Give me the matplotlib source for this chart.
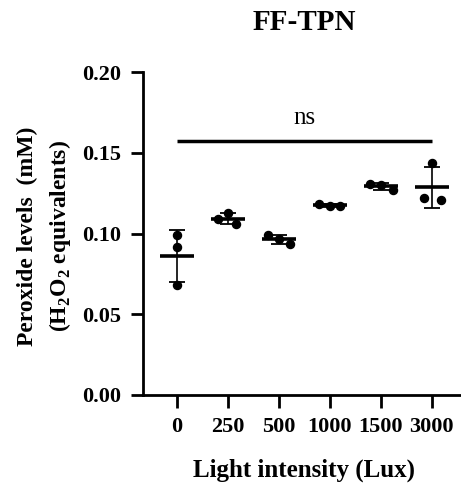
import numpy as np
import matplotlib
matplotlib.use("Agg")
import matplotlib.pyplot as plt

plt.rcParams['font.family'] = ['Liberation Serif', 'DejaVu Serif']
plt.rcParams['mathtext.fontset'] = 'custom'
plt.rcParams['mathtext.rm'] = 'Liberation Serif:bold'
plt.rcParams['mathtext.bf'] = 'Liberation Serif:bold'

categories = ["0", "250", "500", "1000", "1500", "3000"]
rep_0 = [0.0991, 0.0915, 0.0681]
rep_250 = [0.1127, 0.1090, 0.1057]
rep_500 = [0.0991, 0.0966, 0.0933]
rep_1000 = [0.1183, 0.1170, 0.1170]
rep_1500 = [0.1308, 0.1302, 0.1269]
rep_3000 = [0.1434, 0.1218, 0.1207]
replicates = [rep_0, rep_250, rep_500, rep_1000, rep_1500, rep_3000]
ns_level = 0.157
yticks = [0.00, 0.05, 0.10, 0.15, 0.20]

# horizontal jitter of replicate dots (in category units)
jitter = [[0, 0, 0], [0, -0.19, 0.16], [-0.21, 0, 0.23],
          [-0.21, 0, 0.21], [-0.22, 0, 0.23], [0, -0.16, 0.18]]

W, H = 461, 497
fig = plt.figure(figsize=(W / 100, H / 100), dpi=100)
x0, x1, y0, y1 = 143, 466, 72, 395
ax = fig.add_axes([x0 / W, 1 - y1 / H, (x1 - x0) / W, (y1 - y0) / H])

for i, vals in enumerate(replicates):
    vals = np.array(vals)
    m = vals.mean()
    sd = vals.std(ddof=1)
    xs = i + np.array(jitter[i])
    ax.plot(xs, vals, 'o', color='black', ms=5.8, zorder=3, clip_on=False)
    ax.errorbar([i], [m], yerr=[sd], fmt='none', ecolor='black',
                elinewidth=1.2, capsize=6, capthick=1.3, zorder=2)
    ax.plot([i - 0.33, i + 0.33], [m, m], color='black', lw=2.6,
            solid_capstyle='butt', zorder=4)

ax.plot([0, len(categories) - 1], [ns_level, ns_level], color='black',
        lw=2.5, solid_capstyle='butt')
ax.text((len(categories) - 1) / 2, ns_level + 0.008, "ns", ha='center',
        va='bottom', fontsize=18)

ax.set_xlim(-0.66, 5.67)
ax.set_ylim(0, 0.2)
ax.set_xticks(range(len(categories)))
ax.set_xticklabels(categories)
ax.set_yticks(yticks)
ax.set_yticklabels([f"{v:.2f}" for v in yticks])
for s in ['top', 'right']:
    ax.spines[s].set_visible(False)
for s in ['left', 'bottom']:
    ax.spines[s].set_linewidth(2.0)
ax.tick_params(axis='both', length=9, width=2.0, labelsize=16, pad=7)
for lab in ax.get_xticklabels() + ax.get_yticklabels():
    lab.set_fontweight('bold')

fig.text(304 / W, 1 - 22 / H, "FF-TPN", ha='center', va='center',
         fontsize=21, fontweight='bold')
fig.text(304 / W, 1 - 470 / H, "Light intensity (Lux)", ha='center',
         va='center', fontsize=18, fontweight='bold')
fig.text(45 / W, 1 - 236 / H,
         "Peroxide levels  (mM)\n(H$_2$O$_2$ equivalents)",
         ha='center', va='center', rotation=90, fontsize=17,
         fontweight='bold', linespacing=1.45, multialignment='center')

fig.savefig("out.png", dpi=100)
